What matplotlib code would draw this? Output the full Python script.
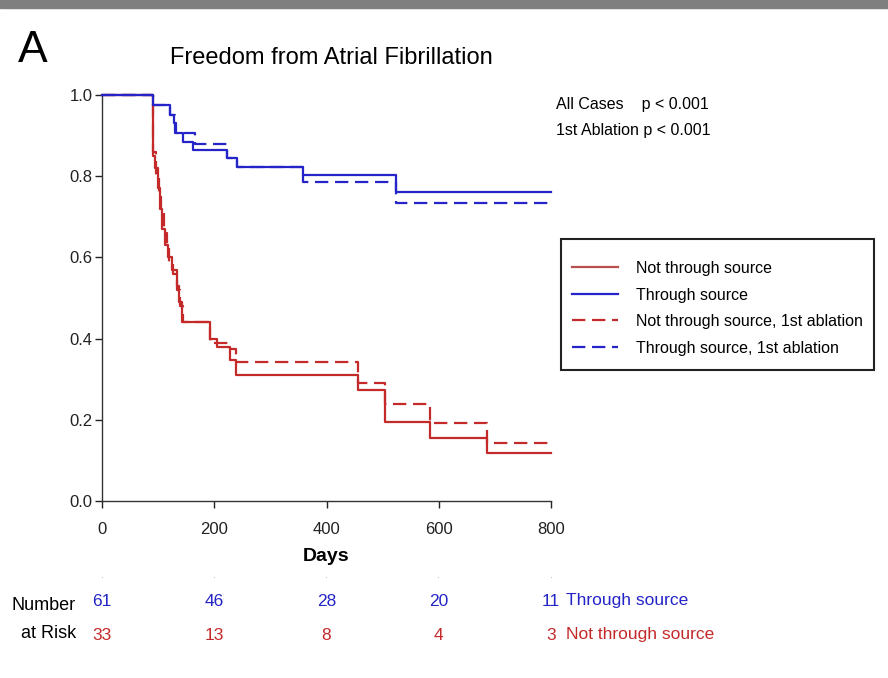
import matplotlib
matplotlib.use("Agg")
import matplotlib.pyplot as plt
import matplotlib.transforms as mtransforms

plt.rcParams['font.family'] = ['Liberation Sans Narrow', 'Liberation Sans', 'DejaVu Sans']

# Kaplan-Meier step curves (days, survival fraction)
blue_all_t = [0, 91, 121, 128, 132, 144, 162, 223, 240, 358, 524, 800]
blue_all_s = [1.0, 0.975, 0.95, 0.93, 0.906, 0.884, 0.865, 0.845, 0.823, 0.803, 0.761, 0.761]

blue_first_t = [0, 91, 121, 130, 166, 223, 240, 358, 524, 800]
blue_first_s = [1.0, 0.975, 0.95, 0.906, 0.88, 0.845, 0.823, 0.786, 0.734, 0.734]

red_all_t = [0, 91, 95, 99, 103, 107, 112, 118, 124, 133, 137, 142, 192, 205, 228, 239, 456, 504, 584, 686, 800]
red_all_s = [1.0, 0.85, 0.82, 0.77, 0.72, 0.67, 0.63, 0.60, 0.57, 0.53, 0.49, 0.44, 0.40, 0.38, 0.347, 0.31,
             0.273, 0.195, 0.155, 0.118, 0.118]

red_first_t = [0, 91, 96, 101, 105, 110, 115, 120, 127, 134, 139, 144, 192, 228, 239, 456, 504, 584, 686, 800]
red_first_s = [1.0, 0.86, 0.80, 0.76, 0.72, 0.66, 0.63, 0.59, 0.56, 0.52, 0.48, 0.44, 0.39, 0.375, 0.342,
               0.29, 0.24, 0.192, 0.143, 0.143]

risk_days = [0, 200, 400, 600, 800]
risk_through = [61, 46, 28, 20, 11]
risk_not_through = [33, 13, 8, 4, 3]

BLUE = '#2424c8'
RED = '#c42a2a'
RED_SOFT = '#b85050'

fig = plt.figure(figsize=(8.88, 6.78), dpi=100)
ax = fig.add_axes([0.1149, 0.261, 0.5056, 0.5988])

# blue drawn above red so the shared 1.0 segment shows blue
ax.step(red_all_t, red_all_s, where='post', color=RED, lw=1.6, label='Not through source',
        zorder=2, clip_on=False)
ax.step(blue_all_t, blue_all_s, where='post', color=BLUE, lw=1.6, label='Through source',
        zorder=4, clip_on=False)
ax.step(red_first_t, red_first_s, where='post', color=RED, lw=1.6, ls=(0, (6, 3)),
        label='Not through source, 1st ablation', zorder=2, clip_on=False)
ax.step(blue_first_t, blue_first_s, where='post', color=BLUE, lw=1.6, ls=(0, (6, 3)),
        label='Through source, 1st ablation', zorder=3, clip_on=False)

ax.set_xlim(0, 800)
ax.set_ylim(0, 1.0)
ax.set_xticks(risk_days)
ax.set_yticks([0.0, 0.2, 0.4, 0.6, 0.8, 1.0])
ax.set_yticklabels(['0.0', '0.2', '0.4', '0.6', '0.8', '1.0'])
for s in ['top', 'right']:
    ax.spines[s].set_visible(False)
for s in ['left', 'bottom']:
    ax.spines[s].set_linewidth(1.0)
    ax.spines[s].set_color('#333333')
ax.tick_params(axis='both', direction='out', length=5, width=1, labelsize=12, colors='#222222')
ax.tick_params(axis='y', pad=2)
ax.tick_params(axis='x', pad=10)
ax.set_xlabel('Days', fontsize=14, fontweight='bold', labelpad=8)

# legend box drawn by hand, entries placed inside it
fig.patches.append(plt.Rectangle((561 / 888, 1 - 370 / 678), 313 / 888, 131 / 678, transform=fig.transFigure,
                                 fill=False, edgecolor='#222222', linewidth=1.5, zorder=5))
leg = ax.legend(loc='upper left', bbox_to_anchor=(572 / 888, 1 - 261 / 678), bbox_transform=fig.transFigure,
                frameon=False, fontsize=11.5, handlelength=2.9, handletextpad=1.1,
                borderpad=0, labelspacing=0.72, borderaxespad=0)
leg.get_lines()[0].set_color(RED_SOFT)

fig.text(33 / 888, 1 - 50 / 678, 'A', fontsize=32, ha='center', va='center')
fig.text(331 / 888, 1 - 58 / 678, 'Freedom from Atrial Fibrillation', fontsize=17, ha='center', va='center')
fig.text(556 / 888, 1 - 104 / 678, 'All Cases    p < 0.001', fontsize=11.5, ha='left', va='center')
fig.text(556 / 888, 1 - 130 / 678, '1st Ablation p < 0.001', fontsize=11.5, ha='left', va='center')

# gray strip along the top edge
fig.patches.append(plt.Rectangle((0, 1 - 8 / 678), 1, 8 / 678, transform=fig.transFigure,
                                 color='#7f7f7f', zorder=0))

# number at risk table under the axis
trans = mtransforms.blended_transform_factory(ax.transData, fig.transFigure)
for d in risk_days:
    ax.text(d, 1 - 575 / 678, '.', transform=trans, ha='center', va='center', fontsize=8,
            color='#aaaaaa', clip_on=False)
for d, nb, nr in zip(risk_days, risk_through, risk_not_through):
    ax.text(d, 1 - 601 / 678, str(nb), transform=trans, ha='center', va='center', fontsize=12.5,
            color=BLUE, clip_on=False)
    ax.text(d, 1 - 635 / 678, str(nr), transform=trans, ha='center', va='center', fontsize=12.5,
            color=RED, clip_on=False)
ax.text(826, 1 - 601 / 678, 'Through source', transform=trans, ha='left', va='center', fontsize=12.5,
        color=BLUE, clip_on=False)
ax.text(826, 1 - 635 / 678, 'Not through source', transform=trans, ha='left', va='center', fontsize=12.5,
        color=RED, clip_on=False)
fig.text(76 / 888, 1 - 605 / 678, 'Number', fontsize=13, ha='right', va='center')
fig.text(76 / 888, 1 - 634 / 678, 'at Risk', fontsize=13, ha='right', va='center')

fig.savefig('out.png', dpi=100)
